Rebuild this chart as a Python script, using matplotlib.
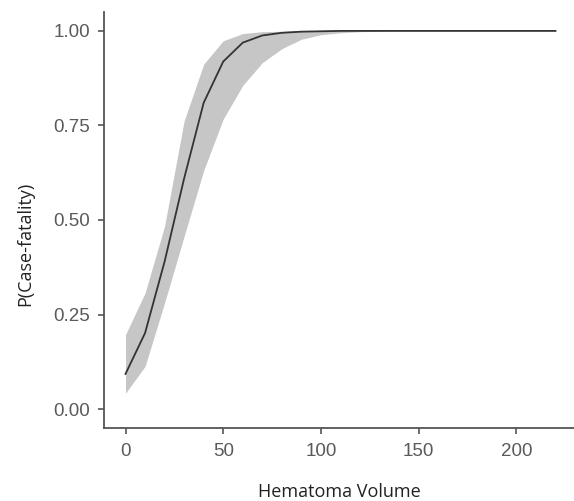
import matplotlib
matplotlib.use("Agg")
import matplotlib.pyplot as plt

volume = [0, 10, 20, 30, 40, 50, 60, 70, 80, 90, 100, 110, 120, 130, 140, 150, 160, 170, 180, 190, 200, 210, 220]
p_fit = [0.093, 0.201, 0.39, 0.61, 0.81, 0.919, 0.969, 0.988, 0.995, 0.998, 0.999, 1.0, 1.0, 1.0, 1.0, 1.0, 1.0, 1.0, 1.0, 1.0, 1.0, 1.0, 1.0]
p_upper = [0.197, 0.307, 0.484, 0.762, 0.912, 0.974, 0.993, 0.998, 0.999, 1.0, 1.0, 1.0, 1.0, 1.0, 1.0, 1.0, 1.0, 1.0, 1.0, 1.0, 1.0, 1.0, 1.0]
p_lower = [0.042, 0.113, 0.281, 0.457, 0.631, 0.767, 0.856, 0.916, 0.953, 0.978, 0.99, 0.995, 0.998, 0.999, 1.0, 1.0, 1.0, 1.0, 1.0, 1.0, 1.0, 1.0, 1.0]
x_ticks = [0, 50, 100, 150, 200]
y_ticks = [0.00, 0.25, 0.50, 0.75, 1.00]
y_ticklabels = ["0.00", "0.25", "0.50", "0.75", "1.00"]

W, H = 574, 501
fig = plt.figure(figsize=(W / 100, H / 100), dpi=100)
left, right, top, bottom = 104, 577, 12, 428
ax = fig.add_axes([left / W, (H - bottom) / H, (right - left) / W, (bottom - top) / H])

ax.fill_between(volume, p_lower, p_upper, color="#c6c6c6", linewidth=0)
ax.plot(volume, p_fit, color="#333333", linewidth=1.3)

ax.set_xlim(-11, 231)
ax.set_ylim(-0.05, 1.05)
ax.set_xticks(x_ticks)
ax.set_yticks(y_ticks)
ax.set_yticklabels(y_ticklabels)

for s in ["top", "right"]:
    ax.spines[s].set_visible(False)
for s in ["left", "bottom"]:
    ax.spines[s].set_color("#555555")
    ax.spines[s].set_linewidth(1.3)

ax.tick_params(axis="both", direction="out", length=4.5, width=1.2, color="#555555",
               labelcolor="#5a5a5a", labelsize=13.5)
ax.tick_params(axis="x", pad=6)
ax.tick_params(axis="y", pad=5.5)
for lab in ax.get_xticklabels() + ax.get_yticklabels():
    lab.set_family("Liberation Sans")

fig.text(339 / W, 1 - 492 / H, "Hematoma Volume", ha="center", va="center",
         fontsize=13, family="Open Sans", color="#222222")
fig.text(25 / W, 1 - 244 / H, "P(Case-fatality)", ha="center", va="center",
         rotation=90, fontsize=13, family="Open Sans", color="#222222")

fig.savefig("out.png", dpi=100)
